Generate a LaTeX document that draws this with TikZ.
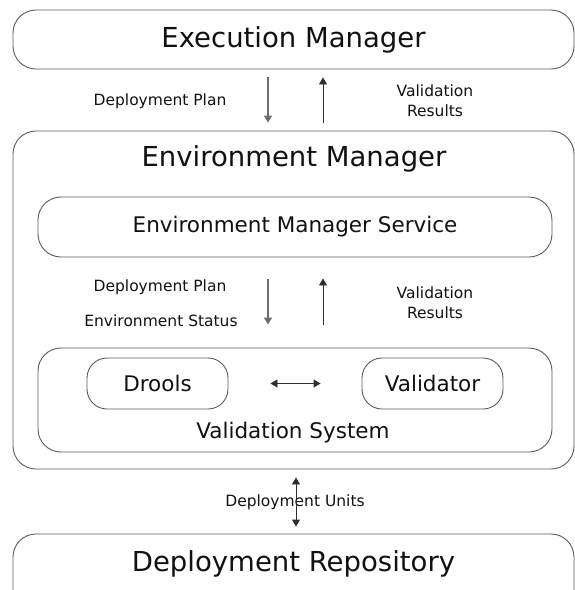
\documentclass[tikz,border=0pt]{standalone}
\usepackage{fontspec}
\setmainfont{DejaVu Sans}
\usepackage{tikz}
\usetikzlibrary{arrows.meta}
\definecolor{EnvLine}{HTML}{5A5A5A}
\definecolor{EnvDown}{HTML}{6E6E6E}
\definecolor{EnvUp}{HTML}{2E2E2E}
\definecolor{EnvText}{HTML}{111111}

\begin{document}
\begin{tikzpicture}[x=1pt,y=-1pt,
    box/.style={draw=EnvLine,line width=0.9pt,rounded corners=23pt,inner sep=0pt,text=EnvText},
    bigtxt/.style={text=EnvText,font=\fontsize{27.5}{33}\selectfont},
    midtxt/.style={text=EnvText,font=\fontsize{21.5}{26}\selectfont},
    smalltxt/.style={text=EnvText,font=\fontsize{15.5}{20}\selectfont,align=center},
    tip/.style={-{Triangle[width=8pt,length=7pt]}},
    twotips/.style={{Triangle[width=8pt,length=7pt]}-{Triangle[width=8pt,length=7pt]},draw=EnvUp,line width=0.9pt},
    flowdown/.style={tip,draw=EnvDown,line width=1.3pt},
    flowup/.style={tip,draw=EnvUp,line width=0.8pt}]
      \useasboundingbox (0,0) rectangle (575,590);
      \node[box,minimum width=561pt,minimum height=59pt,bigtxt] (exec) at (293.5,39.5) {Execution Manager};
      \node[box,minimum width=561pt,minimum height=338pt] (env) at (293.5,300) {};
      \node[bigtxt] (envtitle) at (294,159) {Environment Manager};
      \node[box,minimum width=514pt,minimum height=60pt,midtxt] (ems) at (295,227) {Environment Manager Service};
      \node[box,minimum width=514pt,minimum height=104pt] (vs) at (295,400) {};
      \node[box,rounded corners=20pt,minimum width=141pt,minimum height=51pt,midtxt] (drools) at (157.5,383.5) {Drools};
      \node[box,rounded corners=20pt,minimum width=141pt,minimum height=51pt,midtxt] (validator) at (432.5,383.5) {Validator};
      \node[midtxt] (vstitle) at (293,433) {Validation System};
      \node[box,minimum width=561pt,minimum height=120pt] (repo) at (293.5,594) {};
      \node[bigtxt] (repotitle) at (293.5,564) {Deployment Repository};
      \node[smalltxt] (plan) at (160,101) {Deployment Plan};
      \node[smalltxt] (results) at (435,101) {Validation\\Results};
      \node[smalltxt] (plan2) at (160,287) {Deployment Plan};
      \node[smalltxt] (status) at (161,321) {Environment Status};
      \node[smalltxt] (results2) at (435,303) {Validation\\Results};
      \node[smalltxt] (units) at (295,502) {Deployment Units};
      \draw[flowdown,shorten <=8pt,shorten >=8pt] ([xshift=-25.5pt]exec.south) -- ([xshift=-25.5pt]env.north);
      \draw[flowup,shorten <=8pt,shorten >=8pt] ([xshift=29.5pt]env.north) -- ([xshift=29.5pt]exec.south);
      \draw[flowdown,shorten <=22pt,shorten >=23pt] ([xshift=-27pt]ems.south) -- ([xshift=-27pt]vs.north);
      \draw[flowup,shorten <=23pt,shorten >=21pt] ([xshift=28pt]vs.north) -- ([xshift=28pt]ems.south);
      \draw[twotips,shorten <=42pt,shorten >=41pt] (drools.east) -- (validator.west);
      \draw[twotips,shorten <=8pt,shorten >=7pt] ([xshift=2.5pt]env.south) -- ([xshift=2.5pt]repo.north);
    \end{tikzpicture}
\end{document}
